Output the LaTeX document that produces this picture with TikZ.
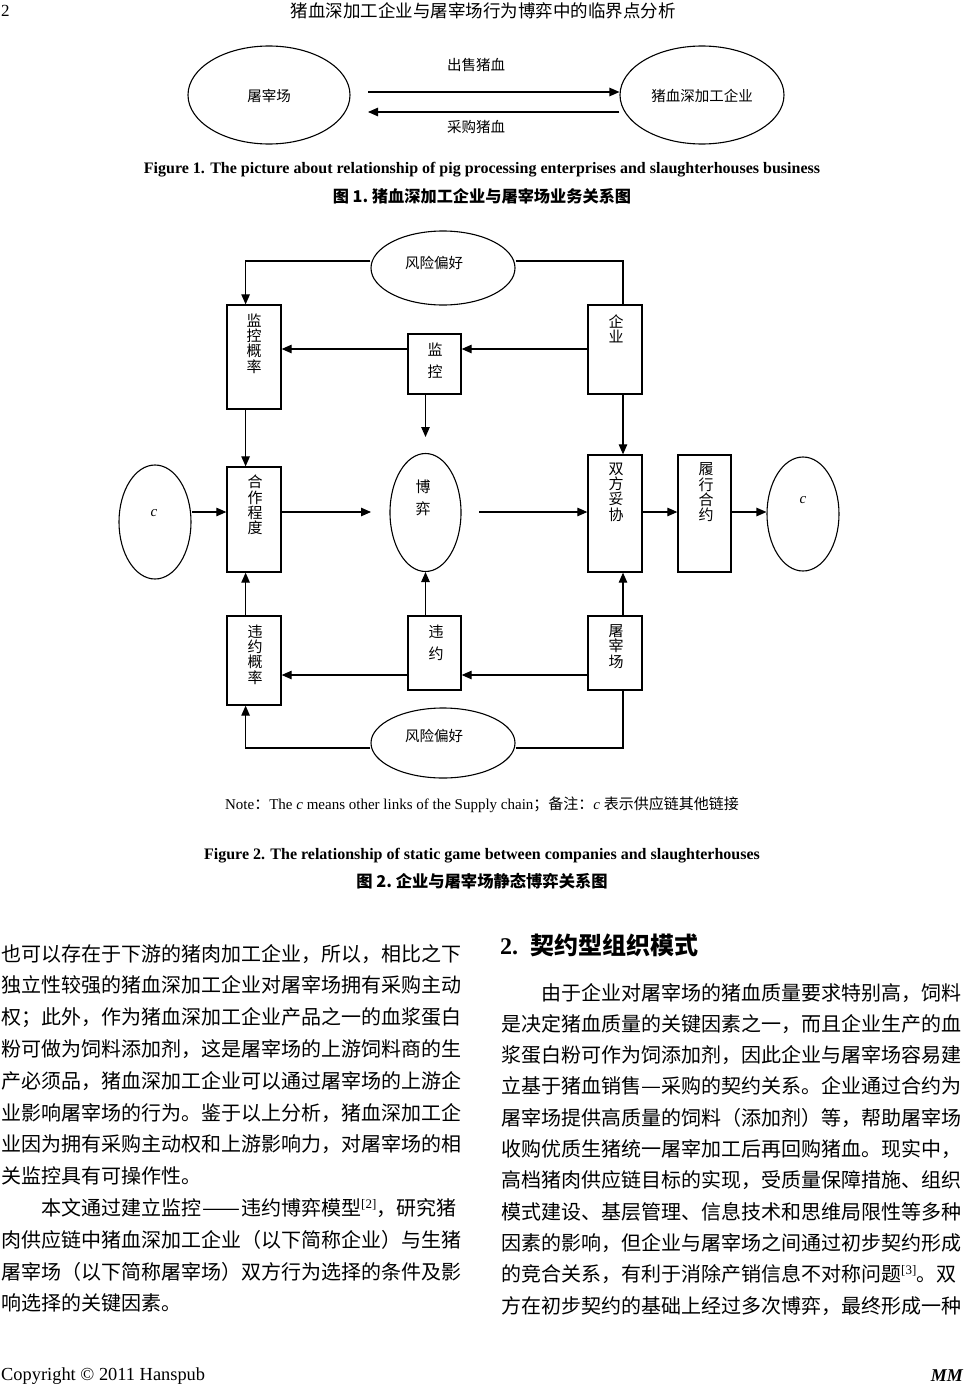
\documentclass[tikz,border=0pt]{standalone}
\usepackage{fontspec}
\usepackage{graphicx}
\setmainfont{Liberation Serif}
\newfontfamily\zh{Noto Sans CJK SC}
\usetikzlibrary{arrows.meta,shapes.geometric}
\newcommand\fs[2]{\fontsize{#1}{#2}\selectfont}
\newcommand\supref[1]{\raisebox{7pt}{\rmfamily\fs{13}{13}[#1]}}
\newcommand\wdash[1]{\resizebox{#1}{\height}{—}}
\tikzset{
  ln/.style={line width=1.1pt},
  arr/.style={line width=1.1pt,-{Triangle[length=10pt,width=8.5pt]}},
  ell/.style={draw,ellipse,line width=1.1pt,inner sep=0pt},
  bx/.style={draw,line width=1.3pt,inner sep=0pt},
  lbl/.style={inner sep=0pt,font=\zh\fs{14.5}{15}},
  vt/.style={inner sep=0pt,anchor=north,align=center,font=\zh\fs{15}{15.3}},
  vtw/.style={inner sep=0pt,anchor=north,align=center,font=\zh\fs{15}{22}},
  body/.style={inner sep=0pt,anchor=west,font=\zh\fs{20}{20},text height=16pt,text depth=4pt},
}
\begin{document}
\begin{tikzpicture}[x=1pt,y=-1pt]
\useasboundingbox (0,0) rectangle (966,1386);
% header
\node[inner sep=0pt,anchor=west,font=\fs{17}{17}] (pg) at (1,11) {2};
\node[inner sep=0pt,font=\zh\fs{17.5}{18}] (hdr) at (483,11) {猪血深加工企业与屠宰场行为博弈中的临界点分析};

% ---------- Figure 1 ----------
\node[ell,minimum width=162pt,minimum height=98pt] (tzc) at (269,95) {};
\node[lbl] (tzct) at (269,96) {屠宰场};
\node[ell,minimum width=164pt,minimum height=98pt] (qye) at (702,95) {};
\node[lbl] (qyet) at (702,96) {猪血深加工企业};
\coordinate (a1) at (368,92);
\coordinate (a2) at (368,112);
\draw[arr] (a1) -- (qye.west |- a1);
\draw[arr] (qye.west |- a2) -- (a2);
\node[lbl] (sell) at (476,65) {出售猪血};
\node[lbl] (buy) at (476,127) {采购猪血};
\node[inner sep=0pt,font=\bfseries\fs{16}{16}] (cap1) at (482,170) {Figure 1. The picture about relationship of pig processing enterprises and slaughterhouses business};
\node[inner sep=0pt,font=\zh\bfseries\fs{16.2}{16}] (cap1z) at (482,196) {图 1.\ 猪血深加工企业与屠宰场业务关系图};

% ---------- Figure 2 ----------
\coordinate (yT) at (0,261);
\coordinate (yB) at (0,748);
\coordinate (r1) at (0,349);
\coordinate (r2) at (0,512);
\coordinate (r3) at (0,675);
\coordinate (cL) at (245.6,0);
\coordinate (cM) at (425.5,0);
\coordinate (cR) at (623,0);

\node[ell,minimum width=144pt,minimum height=74pt] (fxT) at (443,268) {};
\node[lbl] (fxTt) at (434,263) {风险偏好};
\node[ell,minimum width=144pt,minimum height=70pt] (fxB) at (443,743) {};
\node[lbl] (fxBt) at (434,736) {风险偏好};

\node[bx,minimum width=54pt,minimum height=104pt] (jkgl) at (254,357) {};
\node[vt] (jkglt) at (254,313.5) {监\\控\\概\\率};
\node[bx,minimum width=53pt,minimum height=60pt] (jk) at (434.5,364) {};
\node[vtw] (jkt) at (435,342.5) {监\\控};
\node[bx,minimum width=54pt,minimum height=89pt] (qy) at (615,349.5) {};
\node[vt] (qyt) at (616,314.5) {企\\业};

\node[ell,minimum width=72pt,minimum height=114pt] (cl) at (155,522) {};
\node[inner sep=0pt,font=\itshape\fs{15}{15}] (clt) at (154,513) {c};
\node[bx,minimum width=54pt,minimum height=105pt] (hz) at (254,519.5) {};
\node[vt] (hzt) at (255,475) {合\\作\\程\\度};
\node[ell,minimum width=71pt,minimum height=118pt] (game) at (425.5,512.5) {};
\node[vtw] (gamet) at (423,479.5) {博\\弈};
\coordinate (gTop) at (425.5,437);
\coordinate (gL) at (371,512);
\coordinate (gR) at (479,512);
\node[bx,minimum width=54pt,minimum height=117pt] (sf) at (615,513.5) {};
\node[vt] (sft) at (616,462.5) {双\\方\\妥\\协};
\node[bx,minimum width=53pt,minimum height=117pt] (lx) at (704.5,513.5) {};
\node[vt] (lxt) at (706,462.5) {履\\行\\合\\约};
\node[ell,minimum width=72pt,minimum height=114pt] (cr) at (803,514) {};
\node[inner sep=0pt,font=\itshape\fs{15}{15}] (crt) at (803,500) {c};

\node[bx,minimum width=54pt,minimum height=89pt] (wygl) at (254,660.5) {};
\node[vt] (wyglt) at (255,624.5) {违\\约\\概\\率};
\node[bx,minimum width=53pt,minimum height=74pt] (wy) at (434.5,653) {};
\node[vtw] (wyt) at (436,624.5) {违\\约};
\node[bx,minimum width=54pt,minimum height=74pt] (tz) at (615,653) {};
\node[vt] (tzt) at (616,624.5) {屠\\宰\\场};

% connectors
\draw[arr] (fxT.west |- yT) -| (jkgl.north -| cL);
\draw[ln] (fxT.east |- yT) -| (qy.north -| cR);
\draw[arr] (qy.west |- r1) -- (jk.east |- r1);
\draw[arr] (jk.west |- r1) -- (jkgl.east |- r1);
\draw[arr] (jk.south -| cM) -- (gTop);
\draw[arr] (jkgl.south -| cL) -- (hz.north -| cL);
\draw[arr] (qy.south -| cR) -- (sf.north -| cR);
\draw[arr] (cl.east |- r2) -- (hz.west |- r2);
\draw[arr] (hz.east |- r2) -- (gL);
\draw[arr] (gR) -- (sf.west |- r2);
\draw[arr] (sf.east |- r2) -- (lx.west |- r2);
\draw[arr] (lx.east |- r2) -- (cr.west |- r2);
\draw[arr] (wy.north -| cM) -- (game.south);
\draw[arr] (wygl.north -| cL) -- (hz.south -| cL);
\draw[arr] (tz.north -| cR) -- (sf.south -| cR);
\draw[arr] (tz.west |- r3) -- (wy.east |- r3);
\draw[arr] (wy.west |- r3) -- (wygl.east |- r3);
\draw[arr] (fxB.west |- yB) -| (wygl.south -| cL);
\draw[ln] (fxB.east |- yB) -| (tz.south -| cR);

\node[inner sep=0pt,font=\fs{15}{15}] (note) at (482,805) {Note{\zh ：}The \textit{c} means other links of the Supply chain{\zh ；备注：}\textit{c} {\zh 表示供应链其他链接}};
\node[inner sep=0pt,font=\bfseries\fs{16}{16}] (cap2) at (482,856) {Figure 2. The relationship of static game between companies and slaughterhouses};
\node[inner sep=0pt,font=\zh\bfseries\fs{16.3}{16}] (cap2z) at (482,881) {图 2.\ 企业与屠宰场静态博弈关系图};

% ---------- body text, left column ----------
\node[body] (l1) at (1,955) {也可以存在于下游的猪肉加工企业，所以，相比之下};
\node[body] (l2) at (1,986.8) {独立性较强的猪血深加工企业对屠宰场拥有采购主动};
\node[body] (l3) at (1,1018.6) {权；此外，作为猪血深加工企业产品之一的血浆蛋白};
\node[body] (l4) at (1,1050.4) {粉可做为饲料添加剂，这是屠宰场的上游饲料商的生};
\node[body] (l5) at (1,1082.2) {产必须品，猪血深加工企业可以通过屠宰场的上游企};
\node[body] (l6) at (1,1114) {业影响屠宰场的行为。鉴于以上分析，猪血深加工企};
\node[body] (l7) at (1,1145.8) {业因为拥有采购主动权和上游影响力，对屠宰场的相};
\node[body] (l8) at (1,1177.6) {关监控具有可操作性。};
\node[body] (l9) at (41,1209.4) {本文通过建立监控\wdash{40pt}违约博弈模型\supref{2}，研究猪};
\node[body] (l10) at (1,1241.2) {肉供应链中猪血深加工企业（以下简称企业）与生猪};
\node[body] (l11) at (1,1273) {屠宰场（以下简称屠宰场）双方行为选择的条件及影};
\node[body] (l12) at (1,1304.8) {响选择的关键因素。};

% ---------- right column ----------
\node[inner sep=0pt,anchor=west,font=\fs{24}{24}\bfseries] (h2) at (500,945) {2.\ \ {\zh 契约型组织模式}};
\node[body] (r01) at (541,994) {由于企业对屠宰场的猪血质量要求特别高，饲料};
\node[body] (r02) at (501,1025.3) {是决定猪血质量的关键因素之一，而且企业生产的血};
\node[body] (r03) at (501,1056.6) {浆蛋白粉可作为饲添加剂，因此企业与屠宰场容易建};
\node[body] (r04) at (501,1087.9) {立基于猪血销售\wdash{20pt}采购的契约关系。企业通过合约为};
\node[body] (r05) at (501,1119.2) {屠宰场提供高质量的饲料（添加剂）等，帮助屠宰场};
\node[body] (r06) at (501,1150.5) {收购优质生猪统一屠宰加工后再回购猪血。现实中，};
\node[body] (r07) at (501,1181.8) {高档猪肉供应链目标的实现，受质量保障措施、组织};
\node[body] (r08) at (501,1213.1) {模式建设、基层管理、信息技术和思维局限性等多种};
\node[body] (r09) at (501,1244.4) {因素的影响，但企业与屠宰场之间通过初步契约形成};
\node[body] (r10) at (501,1275.7) {的竞合关系，有利于消除产销信息不对称问题\supref{3}。双};
\node[body] (r11) at (501,1307) {方在初步契约的基础上经过多次博弈，最终形成一种};

% footer
\node[inner sep=0pt,anchor=west,font=\fs{18.4}{18}] (copy) at (1,1376) {Copyright © 2011 Hanspub};
\node[inner sep=0pt,anchor=east,font=\bfseries\itshape\fs{18}{18}] (mm) at (963,1376) {MM};
\end{tikzpicture}
\end{document}
